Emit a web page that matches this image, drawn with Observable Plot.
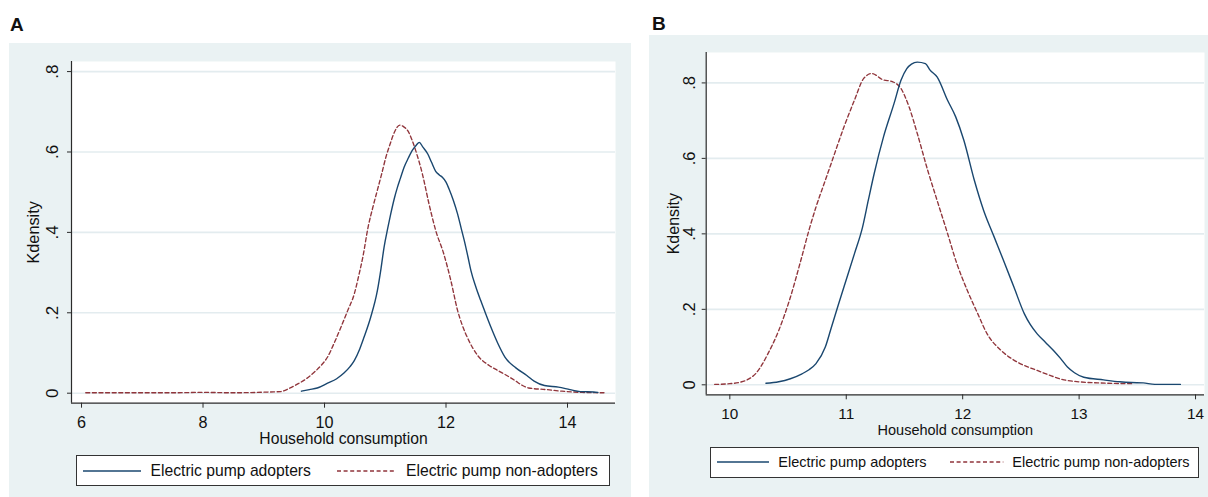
<!DOCTYPE html>
<html>
<head>
<meta charset="utf-8">
<script src="https://cdn.jsdelivr.net/npm/d3@7"></script>
<script src="https://cdn.jsdelivr.net/npm/@observablehq/plot@0.6"></script>
<style>
  html, body { margin: 0; padding: 0; }
  body { width: 1208px; height: 497px; position: relative; background: #ffffff; overflow: hidden;
         font-family: "Liberation Sans", Arial, Helvetica, sans-serif; color: #111; }
  .panel { position: absolute; background: #eaf2f3; }
  .plotbox { position: absolute; }
  .plotbox svg { display: block; overflow: visible; }
  .tag { position: absolute; font-weight: bold; font-size: 19px; line-height: 1; }
  .legend { position: absolute; background: #fff; border: 1px solid #333; box-sizing: border-box; }
  .legend svg { position: absolute; overflow: visible; }
  .legend span { position: absolute; line-height: 1; white-space: nowrap; transform: translateY(-50%); }
</style>
</head>
<body>
<script>
// ---------- data ----------
const seriesNames = ["Electric pump adopters", "Electric pump non-adopters"];
const xTitle = "Household consumption";
const yTitle = "Kdensity";

const yTicks = [0, 0.2, 0.4, 0.6, 0.8];
const yTickLabels = ["0", ".2", ".4", ".6", ".8"];
const xTicksA = [6, 8, 10, 12, 14];
const xTicksB = [10, 11, 12, 13, 14];

// Panel A: adopters (x, density)
const adoptersA_x = [9.62,9.75,9.88,10.05,10.2,10.32,10.42,10.49,10.58,10.65,10.76,10.87,10.93,10.98,11.04,11.09,11.15,11.2,11.25,11.31,11.38,11.45,11.51,11.56,11.62,11.7,11.76,11.83,11.89,11.94,12.0,12.05,12.12,12.19,12.25,12.3,12.36,12.41,12.49,12.57,12.66,12.74,12.85,12.97,13.15,13.33,13.45,13.62,13.85,14.04,14.21,14.43,14.5];
const adoptersA_y = [0.005,0.009,0.013,0.025,0.036,0.05,0.066,0.081,0.11,0.139,0.189,0.255,0.31,0.363,0.41,0.446,0.485,0.512,0.535,0.562,0.585,0.605,0.617,0.624,0.612,0.595,0.575,0.552,0.543,0.537,0.525,0.508,0.48,0.446,0.41,0.38,0.34,0.305,0.265,0.231,0.195,0.164,0.125,0.09,0.063,0.044,0.03,0.019,0.015,0.009,0.004,0.003,0.002];
// Panel A: non-adopters
const nonAdoptersA_x = [6.07,6.5,7.0,7.5,8.0,8.5,8.9,9.1,9.28,9.42,9.56,9.7,9.83,9.95,10.05,10.16,10.27,10.38,10.49,10.56,10.63,10.72,10.8,10.87,10.94,11.01,11.08,11.15,11.24,11.3,11.37,11.44,11.5,11.61,11.72,11.83,11.96,12.08,12.19,12.27,12.35,12.52,12.71,12.87,13.0,13.13,13.25,13.36,13.65,13.91,14.24,14.6];
const nonAdoptersA_y = [0.001,0.001,0.001,0.001,0.002,0.001,0.002,0.003,0.004,0.012,0.023,0.036,0.052,0.07,0.09,0.125,0.164,0.205,0.247,0.29,0.338,0.415,0.465,0.505,0.545,0.587,0.62,0.649,0.667,0.663,0.653,0.63,0.604,0.546,0.471,0.405,0.348,0.28,0.206,0.168,0.139,0.094,0.069,0.055,0.044,0.032,0.02,0.013,0.009,0.005,0.002,0.001];

// Panel B: adopters
const adoptersB_x = [10.31,10.42,10.52,10.62,10.68,10.74,10.82,10.87,10.93,10.98,11.07,11.14,11.19,11.24,11.32,11.41,11.47,11.52,11.56,11.61,11.68,11.72,11.78,11.87,11.94,12.01,12.1,12.18,12.27,12.35,12.44,12.53,12.58,12.64,12.71,12.78,12.84,12.9,12.96,13.04,13.21,13.35,13.45,13.55,13.65,13.87];
const adoptersB_y = [0.004,0.008,0.016,0.029,0.04,0.056,0.1,0.15,0.21,0.259,0.347,0.418,0.49,0.56,0.657,0.745,0.807,0.838,0.85,0.855,0.851,0.834,0.816,0.754,0.71,0.648,0.542,0.462,0.392,0.33,0.259,0.188,0.16,0.135,0.113,0.091,0.07,0.047,0.032,0.02,0.013,0.008,0.006,0.005,0.001,0.001];
// Panel B: non-adopters
const nonAdoptersB_x = [9.87,10.0,10.09,10.16,10.22,10.27,10.32,10.42,10.52,10.61,10.68,10.74,10.82,10.87,10.98,11.07,11.15,11.22,11.31,11.4,11.47,11.54,11.61,11.7,11.78,11.87,11.95,12.04,12.13,12.21,12.33,12.47,12.64,12.75,12.87,13.16,13.47];
const nonAdoptersB_y = [0.001,0.003,0.007,0.015,0.029,0.05,0.078,0.144,0.232,0.33,0.41,0.471,0.542,0.586,0.683,0.754,0.812,0.825,0.809,0.803,0.785,0.736,0.666,0.568,0.489,0.401,0.321,0.25,0.188,0.135,0.091,0.06,0.038,0.025,0.013,0.005,0.003];

// ---------- styles ----------
const BLUE = "#1a476f";
const RED = "#90353b";
const GRID = "#e3ecef";
const AXIS = "#2b2b2b";
const DASH = "4,2.6";

function zip(xs, ys) { return xs.map((x, i) => ({x, y: ys[i]})); }

function addDiv(cls, css, html) {
  const d = document.createElement("div");
  d.className = cls;
  Object.assign(d.style, css);
  if (html != null) d.innerHTML = html;
  document.body.appendChild(d);
  return d;
}

function makePanel(cfg) {
  addDiv("panel", {left: cfg.panel[0] + "px", top: cfg.panel[1] + "px",
                   width: cfg.panel[2] + "px", height: cfg.panel[3] + "px"});
  addDiv("tag", {left: cfg.tag[0] + "px", top: cfg.tag[1] + "px"}, cfg.tagText);

  const fmt = d => yTickLabels[yTicks.indexOf(d)];
  const chart = Plot.plot({
    width: cfg.svg[2],
    height: cfg.svg[3],
    marginLeft: cfg.margins[0],
    marginTop: cfg.margins[1],
    marginRight: cfg.margins[2],
    marginBottom: cfg.margins[3],
    style: {background: "transparent", fontFamily: '"Liberation Sans", Arial, sans-serif', fontSize: cfg.tickFont + "px", color: "#111", overflow: "visible"},
    x: {domain: cfg.xDomain},
    y: {domain: cfg.yDomain},
    marks: [
      Plot.frame({fill: "white", stroke: null}),
      Plot.gridY(yTicks, {stroke: GRID, strokeOpacity: 1, strokeWidth: 1.6}),
      Plot.line(zip(cfg.nonAdopters[0], cfg.nonAdopters[1]), {x: "x", y: "y", stroke: RED, strokeWidth: 1.35, strokeDasharray: DASH, curve: "monotone-x"}),
      Plot.line(zip(cfg.adopters[0], cfg.adopters[1]), {x: "x", y: "y", stroke: BLUE, strokeWidth: 1.4, curve: "monotone-x"}),
      Plot.ruleX([cfg.xDomain[0]], {stroke: AXIS, strokeWidth: 1.2}),
      Plot.ruleY([cfg.yDomain[0]], {stroke: AXIS, strokeWidth: 1.2}),
      Plot.axisX(cfg.xTicks, {tickSize: 5, tickPadding: 8, label: null, stroke: AXIS, fontSize: cfg.tickFont, fill: "#111", tickFormat: d => String(d)}),
      Plot.axisY(yTicks, {tickSize: 4, tickFormat: () => "", label: null, stroke: AXIS}),
      Plot.text(yTicks, {y: d => d, text: fmt, frameAnchor: "left", dx: cfg.yLabelDx, rotate: -90,
                         textAnchor: "middle", lineAnchor: "middle", fontSize: cfg.yTickFont, fill: "#111"}),
      Plot.text([xTitle], {frameAnchor: "bottom", dy: 35.7, text: d => d, textAnchor: "middle", lineAnchor: "middle", fontSize: cfg.titleFont, fill: "#111"}),
      Plot.text([yTitle], {frameAnchor: "left", dx: cfg.yTitleDx, text: d => d, rotate: -90, textAnchor: "middle", lineAnchor: "middle", fontSize: cfg.yTitleFont, fill: "#111"})
    ]
  });
  const box = addDiv("plotbox", {left: cfg.svg[0] + "px", top: cfg.svg[1] + "px"});
  box.appendChild(chart);

  // legend
  const L = cfg.legend;
  const lg = addDiv("legend", {left: L.box[0] + "px", top: L.box[1] + "px", width: L.box[2] + "px", height: L.box[3] + "px"});
  const cy = L.box[3] / 2 - 1;
  const ns = "http://www.w3.org/2000/svg";
  function seg(x1, x2, color, dash) {
    const s = document.createElementNS(ns, "svg");
    s.setAttribute("width", x2 - x1); s.setAttribute("height", 4);
    s.style.left = (x1 - L.box[0] - 1) + "px"; s.style.top = (cy - 2) + "px";
    const l = document.createElementNS(ns, "line");
    l.setAttribute("x1", 0); l.setAttribute("x2", x2 - x1); l.setAttribute("y1", 2); l.setAttribute("y2", 2);
    l.setAttribute("stroke", color); l.setAttribute("stroke-width", 1.5);
    if (dash) l.setAttribute("stroke-dasharray", dash);
    s.appendChild(l); lg.appendChild(s);
  }
  function txt(x, t) {
    const sp = document.createElement("span");
    sp.textContent = t; sp.style.left = (x - L.box[0] - 1) + "px"; sp.style.top = cy + "px";
    sp.style.fontSize = cfg.titleFont + "px";
    lg.appendChild(sp);
  }
  seg(L.blue[0], L.blue[1], BLUE, null);
  txt(L.text1, seriesNames[0]);
  seg(L.red[0], L.red[1], RED, DASH);
  txt(L.text2, seriesNames[1]);
}

makePanel({
  panel: [9, 43, 622, 454],
  tag: [10, 15], tagText: "A",
  svg: [9, 43, 622, 400],
  margins: [62, 18, 16, 40.3],
  xDomain: [5.835, 14.79],
  yDomain: [-0.0249, 0.8251],
  xTicks: xTicksA,
  tickFont: 16.2, yTickFont: 17, titleFont: 15.7, yTitleFont: 16.3,
  yLabelDx: -19,
  yTitleDx: -37.3,
  adopters: [adoptersA_x, adoptersA_y],
  nonAdopters: [nonAdoptersA_x, nonAdoptersA_y],
  legend: {box: [76, 455, 534, 31], blue: [82.7, 140.7], text1: 150.5, red: [337.3, 396.7], text2: 406}
});

makePanel({
  panel: [649, 35, 559, 462],
  tag: [652, 14], tagText: "B",
  svg: [649, 35, 559, 410],
  margins: [56.7, 17, 4, 50.7],
  xDomain: [9.797, 14.077],
  yDomain: [-0.0265, 0.8806],
  xTicks: xTicksB,
  tickFont: 15.3, yTickFont: 16.5, titleFont: 14.5, yTitleFont: 16,
  yLabelDx: -16.5,
  yTitleDx: -32.3,
  adopters: [adoptersB_x, adoptersB_y],
  nonAdopters: [nonAdoptersB_x, nonAdoptersB_y],
  legend: {box: [710.3, 446.7, 489, 31], blue: [717.3, 769.3], text1: 778.3, red: [950, 1003.3], text2: 1012.3}
});
</script>
</body>
</html>
